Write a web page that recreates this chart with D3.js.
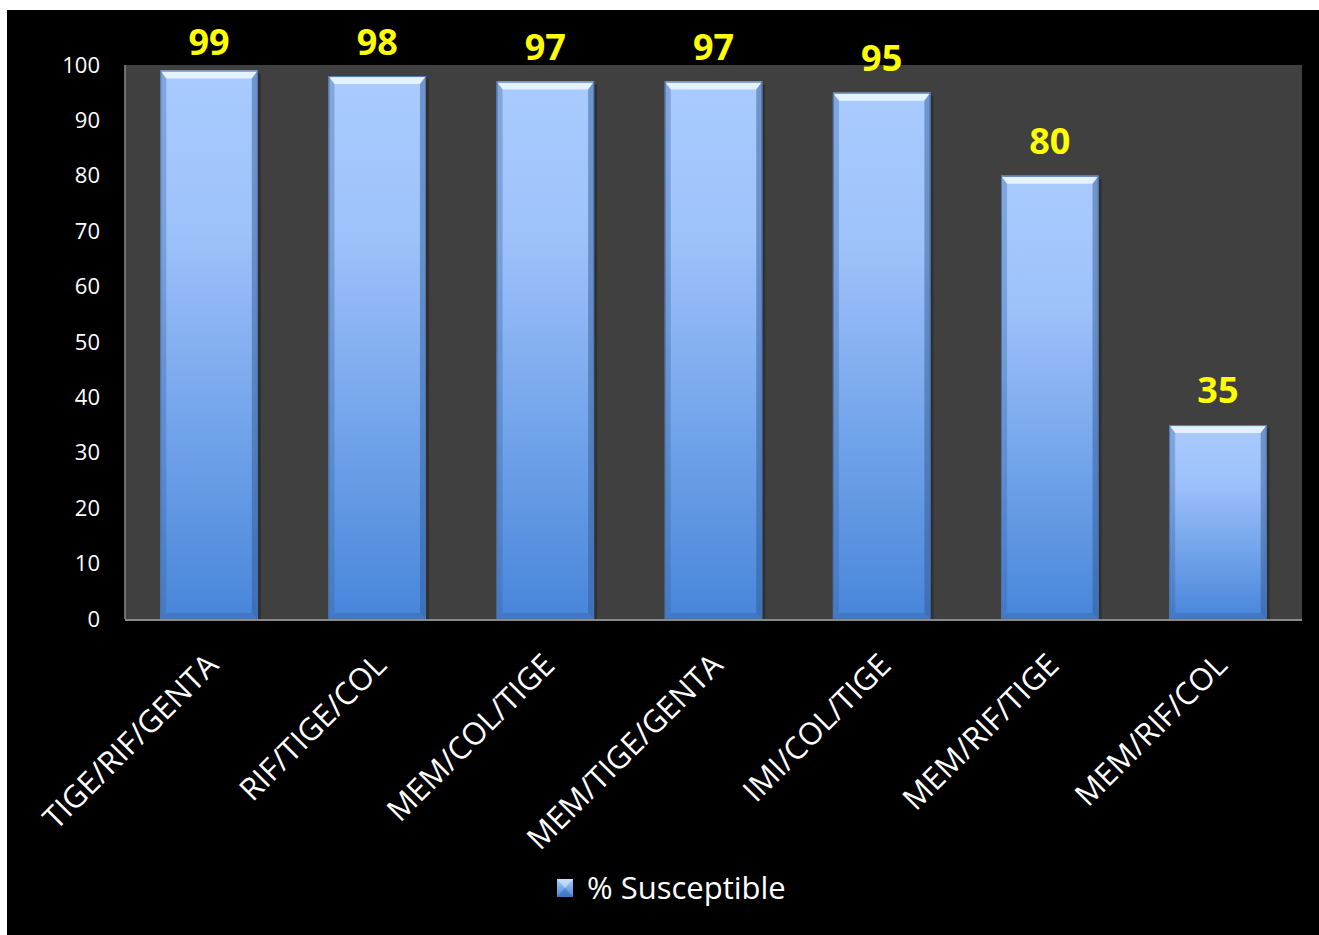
<!DOCTYPE html>
<html>
<head>
<meta charset="utf-8">
<script src="https://cdn.jsdelivr.net/npm/d3@7"></script>
<style>
  body { margin: 0; background: #fff; }
  svg { display: block; }
</style>
</head>
<body>
<script>
// data
const combos = ["TIGE/RIF/GENTA", "RIF/TIGE/COL", "MEM/COL/TIGE", "MEM/TIGE/GENTA", "IMI/COL/TIGE", "MEM/RIF/TIGE", "MEM/RIF/COL"];
const susceptible = [99, 98, 97, 97, 95, 80, 35];
const yTicks = [0, 10, 20, 30, 40, 50, 60, 70, 80, 90, 100];
const seriesName = "% Susceptible";

const W = 1319, H = 935;
const plot = {left: 125, right: 1302, top: 65, bottom: 619};
const font = "'Open Sans', 'DejaVu Sans', sans-serif";

let data = combos.map((c, i) => ({name: c, value: susceptible[i]}));

let svg = d3.select("body").append("svg")
    .attr("width", W)
    .attr("height", H);

// white frame round a black card, like the pasted slide
svg.append("rect").attr("width", W).attr("height", H).attr("fill", "#fff");
svg.append("rect").attr("x", 7).attr("y", 10).attr("width", W - 7).attr("height", H - 10).attr("fill", "#000");

let defs = svg.append("defs");
let grad = defs.append("linearGradient")
    .attr("id", "barFill")
    .attr("x1", 0).attr("y1", 0).attr("x2", 0).attr("y2", 1);
grad.append("stop").attr("offset", "0%").attr("stop-color", "#a9cbff");
grad.append("stop").attr("offset", "30%").attr("stop-color", "#9dc1fa");
grad.append("stop").attr("offset", "100%").attr("stop-color", "#4886da");

let legGrad = defs.append("linearGradient")
    .attr("id", "legFill")
    .attr("x1", 0).attr("y1", 0).attr("x2", 0).attr("y2", 1);
legGrad.append("stop").attr("offset", "0%").attr("stop-color", "#a9cbff");
legGrad.append("stop").attr("offset", "100%").attr("stop-color", "#4886da");

let x = d3.scaleBand()
    .domain(combos)
    .range([plot.left, plot.right])
    .paddingInner(0.42)
    .paddingOuter(0.21);

let y = d3.scaleLinear()
    .domain([0, 100])
    .range([plot.bottom, plot.top]);

// plot area
svg.append("rect")
    .attr("x", plot.left).attr("y", plot.top)
    .attr("width", plot.right - plot.left)
    .attr("height", plot.bottom - plot.top)
    .attr("fill", "#404040");

// bars, with a bit of bevel
let bars = svg.append("g").selectAll("g.bar")
    .data(data)
    .enter()
    .append("g")
    .attr("class", "bar");

bars.append("rect")  // soft shadow on the right
    .attr("x", d => x(d.name) + 3)
    .attr("y", d => y(d.value) + 3)
    .attr("width", x.bandwidth())
    .attr("height", d => y(0) - y(d.value) - 3)
    .attr("fill", "#000")
    .attr("opacity", 0.25);

bars.append("rect")
    .attr("x", d => x(d.name))
    .attr("y", d => y(d.value))
    .attr("width", x.bandwidth())
    .attr("height", d => y(0) - y(d.value))
    .attr("fill", "url(#barFill)");

let bev = 6;
let edge = (d, side) => {
    let x0 = x(d.name), x1 = x0 + x.bandwidth(), y0 = y(d.value), y1 = y(0);
    if (side == "top") return `M${x0},${y0}L${x1},${y0}L${x1 - bev},${y0 + bev + 2}L${x0 + bev},${y0 + bev + 2}Z`;
    if (side == "left") return `M${x0},${y0}L${x0 + bev},${y0 + bev + 2}L${x0 + bev},${y1 - bev}L${x0},${y1}Z`;
    if (side == "right") return `M${x1},${y0}L${x1 - bev},${y0 + bev + 2}L${x1 - bev},${y1 - bev}L${x1},${y1}Z`;
    return `M${x0},${y1}L${x0 + bev},${y1 - bev}L${x1 - bev},${y1 - bev}L${x1},${y1}Z`;
};
bars.append("path").attr("d", d => edge(d, "top")).attr("fill", "#eef8ff").attr("opacity", 0.85);
bars.append("path").attr("d", d => edge(d, "left")).attr("fill", "#3a64a0").attr("opacity", 0.35);
bars.append("path").attr("d", d => edge(d, "right")).attr("fill", "#2c548e").attr("opacity", 0.45);
bars.append("path").attr("d", d => edge(d, "bottom")).attr("fill", "#2c5a9a").attr("opacity", 0.3);
bars.append("rect")
    .attr("x", d => x(d.name) + 0.5)
    .attr("y", d => y(d.value) + 0.5)
    .attr("width", x.bandwidth() - 1)
    .attr("height", d => y(0) - y(d.value) - 1)
    .attr("fill", "none")
    .attr("stroke", "#4d74b0")
    .attr("stroke-width", 1);

// axis lines
svg.append("line")
    .attr("x1", plot.left).attr("x2", plot.left)
    .attr("y1", plot.top).attr("y2", plot.bottom)
    .attr("stroke", "#8a8a8a").attr("stroke-width", 1.5);
svg.append("line")
    .attr("x1", plot.left).attr("x2", plot.right)
    .attr("y1", plot.bottom + 1).attr("y2", plot.bottom + 1)
    .attr("stroke", "#8a8a8a").attr("stroke-width", 2);

// y tick labels
let yAxis = d3.axisLeft(y).tickValues(yTicks).tickSize(0).tickPadding(25);
let gy = svg.append("g")
    .attr("transform", `translate(${plot.left},0)`)
    .call(yAxis);
gy.select(".domain").remove();
gy.selectAll("text")
    .attr("fill", "#fff")
    .style("font-family", font)
    .style("font-size", "22px");

// x labels, turned 45 degrees
let xAxis = d3.axisBottom(x).tickSize(0);
let gx = svg.append("g")
    .attr("transform", `translate(0,${plot.bottom})`)
    .call(xAxis);
gx.select(".domain").remove();
gx.selectAll("text")
    .attr("fill", "#fff")
    .attr("text-anchor", "end")
    .attr("dy", 0)
    .attr("y", 0)
    .attr("transform", "translate(11,48) rotate(-45)")
    .style("font-family", font)
    .style("font-size", "31px");

// value labels
svg.append("g").selectAll("text")
    .data(data)
    .enter()
    .append("text")
    .attr("x", d => x(d.name) + x.bandwidth() / 2)
    .attr("y", d => Math.max(y(d.value) - 22, 55))
    .attr("text-anchor", "middle")
    .attr("fill", "#ffff00")
    .style("font-family", font)
    .style("font-weight", "bold")
    .style("font-size", "36px")
    .text(d => d.value);

// legend
let leg = svg.append("g").attr("transform", "translate(557,879)");
leg.append("rect")
    .attr("width", 16).attr("height", 18)
    .attr("fill", "url(#legFill)");
leg.append("path")
    .attr("d", "M0,0L16,0L8,9Z")
    .attr("fill", "#dcecff").attr("opacity", 0.6);
leg.append("path")
    .attr("d", "M0,18L16,18L8,9Z")
    .attr("fill", "#2c5a9a").attr("opacity", 0.4);
leg.append("text")
    .attr("x", 30).attr("y", 9)
    .attr("dy", "0.35em")
    .attr("fill", "#fff")
    .style("font-family", font)
    .style("font-size", "31px")
    .text(seriesName);
</script>
</body>
</html>
